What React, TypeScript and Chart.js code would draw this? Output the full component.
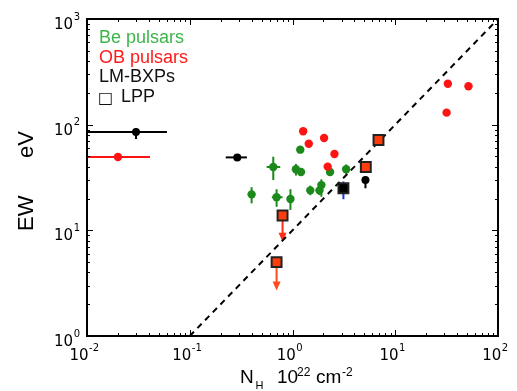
import React, { useEffect, useRef } from 'react';
import { Chart, registerables } from 'chart.js';
Chart.register(...registerables);

// ---- Be pulsars (green) ----
const beNH = [1.19, 0.65, 1.08, 1.21, 2.32, 3.33, 0.40, 0.70, 0.955, 1.49, 1.83, 1.91];
const beEW = [58, 39.8, 37.8, 35.7, 35.7, 37.8, 21.9, 20.6, 19.8, 23.9, 23.9, 26.8];
const beNHLo = [null, 0.56, null, null, null, null, null, 0.63, null, null, null, null];
const beNHHi = [null, 0.76, null, null, null, null, null, 0.80, null, null, null, null];
const beEWLo = [null, 30, 33, null, null, 34, 18, 16.7, 15.6, 21.5, 21.5, 20.8];
const beEWHi = [null, 49.8, 42.5, null, null, 42, 25.6, 24.5, 24.5, 26.5, 26.5, 30.4];

// ---- OB pulsars (red) ----
const obNH = [1.27, 2.03, 1.44, 2.56, 2.20, 32.5, 51.6, 31.6, 0.02];
const obEW = [86.7, 74.8, 66, 52.8, 40.1, 244, 231, 130, 49.5];
const obNHLo = [null, null, null, null, null, null, null, null, 0.005];
const obNHHi = [null, null, null, null, null, null, null, null, 0.041];

// ---- LM-BXPs (black) ----
const lmNH = [0.03, 0.29, 5.13];
const lmEW = [85, 49, 30];
const lmNHLo = [0.005, 0.224, 4.73];
const lmNHHi = [0.06, 0.36, 5.57];
const lmEWLo = [73, null, 25];
const lmEWHi = [93, null, 32.2];

// ---- LPP (squares) ----
const lppNH = [6.87, 5.17, 0.80, 0.70];
const lppEW = [71.6, 39.8, 13.8, 5.0];
const lppUpperLimitTo = [null, null, 7.8, 2.7];

const lmLppNH = [3.13];
const lmLppEW = [25];
const lmLppEWLo = [19.7];
const lmLppEWHi = [29];

// ---- reference line EW = 10 * NH ----
const refNH = [0.1, 100];
const refEW = [1, 1000];

// ---- axis tick labels ----
const xTickValues = [0.01, 0.1, 1, 10, 100];
const xTickExps = ['-2', '-1', '0', '1', '2'];
const yTickValues = [1, 10, 100, 1000];
const yTickExps = ['0', '1', '2', '3'];
const minorMultipliers = [2, 3, 4, 5, 6, 7, 8, 9];

// ---- legend ----
const legendLabels = ['Be pulsars', 'OB pulsars', 'LM-BXPs', 'LPP'];
const legendColors = ['#3db54a', '#ff1a1a', '#111111', '#111111'];

const GREEN = '#1b8a1b';
const RED = '#ff1414';
const ORANGE = '#ff3d0a';
const ARROW_RED = '#ff2a14';

const pts = (xs: number[], ys: number[]) => xs.map((v, i) => ({ x: v, y: ys[i] }));

function drawBars(ctx: any, x: any, y: any, color: string, xs: number[], ys: number[],
  xlo: any[] | null, xhi: any[] | null, ylo: any[] | null, yhi: any[] | null) {
  ctx.strokeStyle = color;
  ctx.lineWidth = 2;
  for (let i = 0; i < xs.length; i++) {
    const px = x.getPixelForValue(xs[i]);
    const py = y.getPixelForValue(ys[i]);
    ctx.beginPath();
    if (xlo && xhi && xlo[i] != null) {
      ctx.moveTo(x.getPixelForValue(xlo[i]), py);
      ctx.lineTo(x.getPixelForValue(xhi[i]), py);
    }
    if (ylo && yhi && ylo[i] != null) {
      ctx.moveTo(px, y.getPixelForValue(ylo[i]));
      ctx.lineTo(px, y.getPixelForValue(yhi[i]));
    }
    ctx.stroke();
  }
}

const decorPlugin = {
  id: 'decor',
  beforeDatasetsDraw(chart: any) {
    const { ctx, chartArea: a, scales } = chart;
    const x = scales.x, y = scales.y;
    ctx.save();
    ctx.beginPath();
    ctx.rect(a.left, a.top, a.right - a.left, a.bottom - a.top);
    ctx.clip();
    drawBars(ctx, x, y, GREEN, beNH, beEW, beNHLo, beNHHi, beEWLo, beEWHi);
    drawBars(ctx, x, y, RED, obNH, obEW, obNHLo, obNHHi, null, null);
    drawBars(ctx, x, y, '#000', lmNH, lmEW, lmNHLo, lmNHHi, lmEWLo, lmEWHi);
    drawBars(ctx, x, y, '#2233dd', lmLppNH, lmLppEW, null, null, lmLppEWLo, lmLppEWHi);
    // upper-limit arrows
    lppNH.forEach((v, i) => {
      const lim = lppUpperLimitTo[i];
      if (lim == null) return;
      const px = x.getPixelForValue(v);
      const py = y.getPixelForValue(lppEW[i]);
      const tip = y.getPixelForValue(lim);
      const col = i === 2 ? ARROW_RED : '#ff4a1a';
      ctx.strokeStyle = col;
      ctx.fillStyle = col;
      ctx.lineWidth = 2;
      ctx.beginPath();
      ctx.moveTo(px, py);
      ctx.lineTo(px, tip - 6);
      ctx.stroke();
      ctx.beginPath();
      ctx.moveTo(px, tip);
      ctx.lineTo(px - 4, tip - 9);
      ctx.lineTo(px + 4, tip - 9);
      ctx.closePath();
      ctx.fill();
    });
    ctx.restore();
  },
  afterDraw(chart: any) {
    const { ctx, chartArea: a, scales } = chart;
    const x = scales.x, y = scales.y;
    ctx.save();
    // frame
    ctx.strokeStyle = '#000';
    ctx.lineWidth = 2;
    ctx.strokeRect(a.left, a.top, a.right - a.left, a.bottom - a.top);
    // ticks
    ctx.lineWidth = 1;
    ctx.beginPath();
    const xMinor: number[] = [];
    for (let d = 0; d < xTickValues.length - 1; d++) minorMultipliers.forEach(m => xMinor.push(m * xTickValues[d]));
    const yMinor: number[] = [];
    for (let d = 0; d < yTickValues.length - 1; d++) minorMultipliers.forEach(m => yMinor.push(m * yTickValues[d]));
    const xt = (v: number, len: number) => {
      const p = Math.round(x.getPixelForValue(v)) + 0.5;
      ctx.moveTo(p, a.bottom); ctx.lineTo(p, a.bottom - len);
      ctx.moveTo(p, a.top); ctx.lineTo(p, a.top + len);
    };
    const yt = (v: number, len: number) => {
      const p = Math.round(y.getPixelForValue(v)) + 0.5;
      ctx.moveTo(a.left, p); ctx.lineTo(a.left + len, p);
      ctx.moveTo(a.right, p); ctx.lineTo(a.right - len, p);
    };
    xMinor.forEach(v => xt(v, 3));
    xTickValues.forEach(v => xt(v, 6));
    yMinor.forEach(v => yt(v, 3));
    yTickValues.forEach(v => yt(v, 6));
    ctx.stroke();

    // tick labels
    const baseFont = '15px "DejaVu Sans"';
    const supFont = '10px "DejaVu Sans"';
    ctx.fillStyle = '#000';
    ctx.textBaseline = 'alphabetic';
    ctx.textAlign = 'left';
    xTickValues.forEach((v, i) => {
      ctx.font = baseFont;
      const w1 = ctx.measureText('10').width;
      ctx.font = supFont;
      const w2 = ctx.measureText(xTickExps[i]).width;
      const px = x.getPixelForValue(v);
      const start = px - 3 - (w1 + w2) / 2;
      ctx.font = baseFont;
      ctx.fillText('10', start, 360);
      ctx.font = supFont;
      ctx.fillText(xTickExps[i], start + w1 + 0.5, 350.5);
    });
    yTickValues.forEach((v, i) => {
      ctx.font = baseFont;
      const w1 = ctx.measureText('10').width;
      ctx.font = supFont;
      const w2 = ctx.measureText(yTickExps[i]).width;
      const py = y.getPixelForValue(v);
      const right = 80;
      const start = right - w2 - w1 - 0.5;
      ctx.font = baseFont;
      ctx.fillText('10', start, py + 10);
      ctx.font = supFont;
      ctx.fillText(yTickExps[i], start + w1 + 0.5, py + 0.5);
    });

    // x axis title: N_H 10^22 cm^-2
    const tFont = '19px "Liberation Sans", Arial, sans-serif';
    const sFont = '12px "Liberation Sans", Arial, sans-serif';
    ctx.font = tFont;
    ctx.fillText('N', 240, 383);
    ctx.font = '11px "Liberation Sans", Arial, sans-serif';
    ctx.fillText('H', 255.5, 389);
    ctx.font = tFont;
    ctx.fillText('10', 277, 383);
    ctx.font = sFont;
    ctx.fillText('22', 297, 375.5);
    ctx.font = tFont;
    ctx.fillText('cm', 316, 383);
    ctx.font = sFont;
    ctx.fillText('-2', 342, 375.5);

    // y axis title
    ctx.save();
    ctx.translate(33, 231);
    ctx.rotate(-Math.PI / 2);
    ctx.font = '22px "Liberation Sans", Arial, sans-serif';
    ctx.fillText('EW', 0, 0);
    ctx.fillText('eV', 73, 0);
    ctx.restore();

    // legend
    const baselines = [43, 62.5, 82, 102];
    legendLabels.forEach((t, i) => {
      ctx.fillStyle = legendColors[i];
      if (i === 3) {
        ctx.font = '16px "DejaVu Sans", sans-serif';
        ctx.fillText('\u25A1', 98, baselines[i] + 1);
        ctx.font = '18px "Liberation Sans", Arial, sans-serif';
        ctx.fillText(t, 121, baselines[i]);
      } else {
        ctx.font = '18px "Liberation Sans", Arial, sans-serif';
        ctx.fillText(t, 99, baselines[i]);
      }
    });
    ctx.restore();
  },
};

export default function App() {
  const ref = useRef<HTMLCanvasElement | null>(null);
  useEffect(() => {
    if (!ref.current) return;
    const chart = new Chart(ref.current, {
      type: 'scatter',
      data: {
        datasets: [
          {
            label: 'LPP', data: pts(lppNH, lppEW), pointStyle: 'rect', pointRadius: 7,
            backgroundColor: ORANGE, borderColor: '#222', borderWidth: 2,
          },
          {
            label: 'LM-BXP LPP', data: pts(lmLppNH, lmLppEW), pointStyle: 'rect', pointRadius: 7,
            backgroundColor: '#000', borderColor: '#222', borderWidth: 2,
          },
          {
            label: 'LM-BXPs', data: pts(lmNH, lmEW), pointRadius: 4,
            backgroundColor: '#000', borderWidth: 0,
          },
          {
            label: 'OB pulsars', data: pts(obNH, obEW), pointRadius: 4.2,
            backgroundColor: RED, borderWidth: 0,
          },
          {
            label: 'Be pulsars', data: pts(beNH, beEW), pointRadius: 4.2,
            backgroundColor: GREEN, borderWidth: 0,
          },
          {
            type: 'line', label: 'EW = 10 NH', data: pts(refNH, refEW), showLine: true,
            borderColor: '#000', borderWidth: 2, borderDash: [6, 5], pointRadius: 0, fill: false,
          } as any,
        ],
      },
      options: {
        responsive: false,
        animation: false,
        events: [],
        layout: { padding: { left: 0, right: 19, top: 19, bottom: 0 } },
        plugins: { legend: { display: false }, tooltip: { enabled: false } },
        scales: {
          x: {
            type: 'logarithmic', min: 0.01, max: 100,
            grid: { display: false }, border: { display: false }, ticks: { display: false },
            afterFit: (s: any) => { s.height = 55; },
          },
          y: {
            type: 'logarithmic', min: 1, max: 1000,
            grid: { display: false }, border: { display: false }, ticks: { display: false },
            afterFit: (s: any) => { s.width = 87; },
          },
        },
      } as any,
      plugins: [decorPlugin],
    });
    return () => chart.destroy();
  }, []);
  return (
    <canvas
      ref={ref}
      width={517}
      height={391}
      style={{ position: 'fixed', left: 0, top: 0, width: 517, height: 391, display: 'block', background: '#fff' }}
    />
  );
}
